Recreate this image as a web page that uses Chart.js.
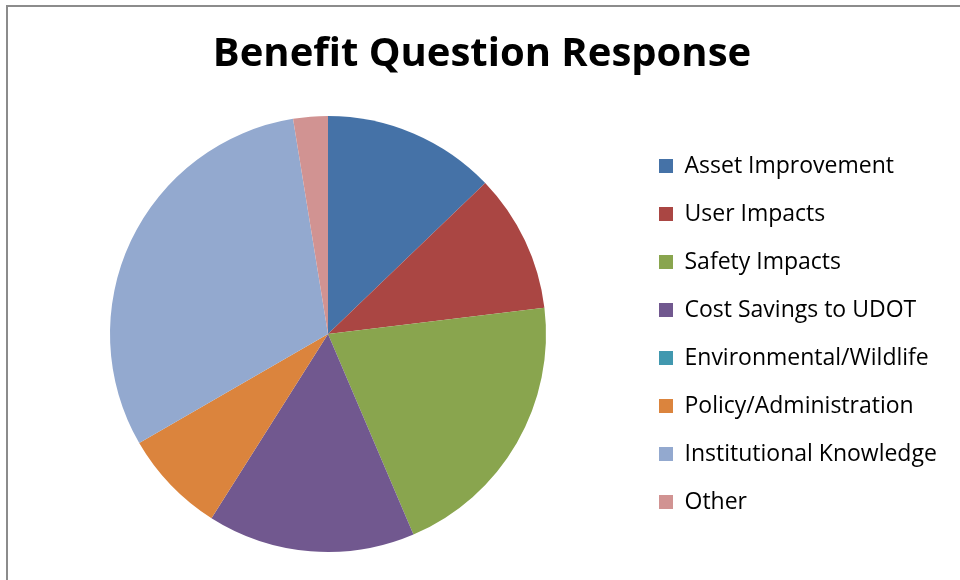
<!DOCTYPE html>
<html lang="en">
<head>
    <meta charset="UTF-8">
    <title>Benefit Question Response</title>
    <script src="https://cdn.jsdelivr.net/npm/chart.js"></script>
    <style>
        html, body { margin: 0; padding: 0; background: #fff; }
        #wrap { position: relative; width: 960px; height: 580px; overflow: hidden; }
        /* chart frame: only the top and left edges fall inside the view */
        #frame {
            position: absolute; left: 6px; top: 5px; width: 1000px; height: 1000px;
            border-left: 2px solid #8c8c8c; border-top: 2px solid #8c8c8c;
        }
        #benefitChart { position: absolute; left: 0; top: 0; }
    </style>
</head>
<body>
    <div id="wrap">
        <div id="frame"></div>
        <canvas id="benefitChart" width="960" height="580"></canvas>
    </div>

    <script>
        const categories = [
            'Asset Improvement',
            'User Impacts',
            'Safety Impacts',
            'Cost Savings to UDOT',
            'Environmental/Wildlife',
            'Policy/Administration',
            'Institutional Knowledge',
            'Other'
        ];
        const responses = [5, 4, 8, 6, 0, 3, 12, 1];
        const sliceColors = ['#4572A7', '#AA4643', '#89A54E', '#71588F', '#4198AF', '#DB843D', '#93A9CF', '#D19392'];

        const fontFace = "'Open Sans', 'DejaVu Sans', sans-serif";

        new Chart(document.getElementById('benefitChart'), {
            type: 'pie',
            data: {
                labels: categories,
                datasets: [{
                    data: responses,
                    backgroundColor: sliceColors,
                    borderWidth: 0
                }]
            },
            options: {
                responsive: false,
                animation: false,
                layout: {
                    padding: { top: 0, left: 22, right: 18, bottom: 28 }
                },
                plugins: {
                    title: {
                        display: true,
                        text: 'Benefit Question Response',
                        color: '#000',
                        font: { family: fontFace, size: 40, weight: 'bold', lineHeight: 1.2 },
                        padding: { top: 30.4, bottom: 37.6 }
                    },
                    legend: {
                        position: 'right',
                        align: 'center',
                        fullSize: false,
                        maxWidth: 308,
                        labels: {
                            color: '#000',
                            boxWidth: 14,
                            boxHeight: 14,
                            padding: 25,
                            font: { family: fontFace, size: 23 }
                        }
                    },
                    tooltip: { enabled: false }
                }
            }
        });
    </script>
</body>
</html>
